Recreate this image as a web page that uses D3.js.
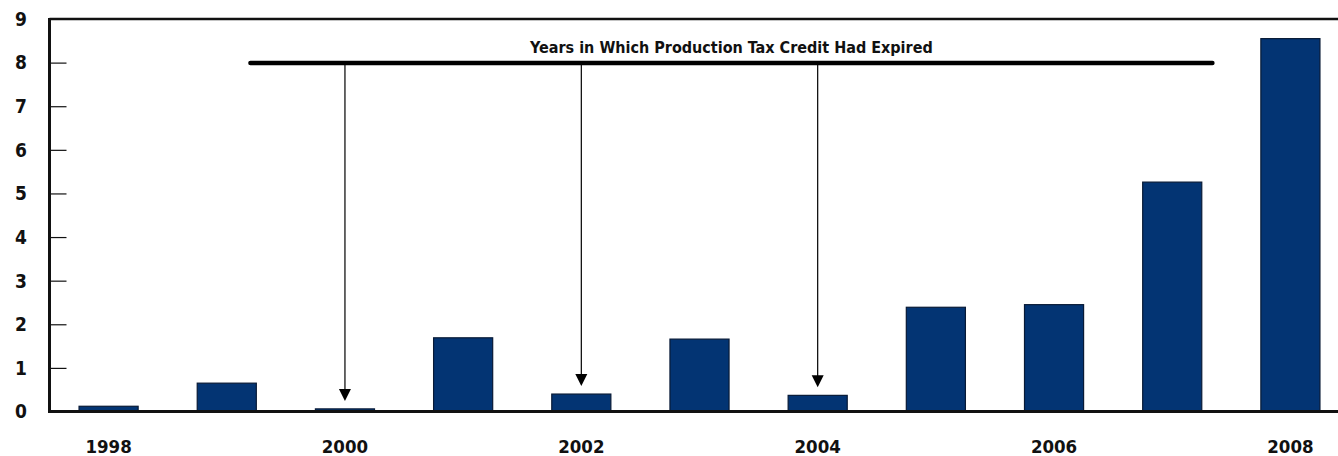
<!DOCTYPE html>
<html>
<head>
<meta charset="utf-8">
<script src="https://cdn.jsdelivr.net/npm/d3@7"></script>
<style>
  html, body { margin: 0; padding: 0; background: #fff; overflow: hidden; }
  text { font-family: "DejaVu Sans Condensed", "DejaVu Sans", sans-serif; font-stretch: condensed; font-weight: bold; fill: #111; }
</style>
</head>
<body>
<div id="chart"></div>
<script>
const years = [1998, 1999, 2000, 2001, 2002, 2003, 2004, 2005, 2006, 2007, 2008];
const values = [0.12, 0.65, 0.06, 1.69, 0.40, 1.66, 0.37, 2.39, 2.45, 5.26, 8.55];
const yTicks = [0, 1, 2, 3, 4, 5, 6, 7, 8, 9];
const xLabels = [1998, 2000, 2002, 2004, 2006, 2008];
const expiredYears = [2000, 2002, 2004];
const noteText = 'Years in Which Production Tax Credit Had Expired';

var svgwidth = 1338;
var svgheight = 456;

var svg = d3.select('#chart')
    .append('svg')
    .attr('width', svgwidth)
    .attr('height', svgheight);

var xscale = d3.scaleBand()
    .domain(years)
    .range([49.5, 1349.5])
    .paddingInner(0.5)
    .paddingOuter(0.25);

var yscale = d3.scaleLinear()
    .domain([0, 9])
    .range([411.5, 19]);

// continuous year position (band centres) for the annotation bracket
var yearPos = d3.scaleLinear()
    .domain([years[0], years[years.length - 1]])
    .range([xscale(years[0]) + xscale.bandwidth() / 2,
            xscale(years[years.length - 1]) + xscale.bandwidth() / 2]);

// bars
svg.append('g')
    .selectAll('rect')
    .data(years)
    .join('rect')
    .attr('x', d => xscale(d))
    .attr('y', (d, i) => yscale(values[i]))
    .attr('width', xscale.bandwidth())
    .attr('height', (d, i) => yscale(0) - yscale(values[i]))
    .attr('fill', '#033473')
    .attr('stroke', '#081a36')
    .attr('stroke-width', 1.2);

// y axis with inward ticks
var yaxis = d3.axisRight(yscale)
    .tickValues(yTicks.filter(t => t > 0 && t < 9))
    .tickSize(17)
    .tickFormat('');
var ya = svg.append('g')
    .attr('transform', 'translate(49.5,0)')
    .call(yaxis);
ya.select('.domain').remove();
ya.selectAll('line').attr('stroke', '#111').attr('stroke-width', 1.2);

svg.append('g')
    .selectAll('text')
    .data(yTicks)
    .join('text')
    .attr('x', 27)
    .attr('y', d => yscale(d))
    .attr('dy', '0.36em')
    .attr('text-anchor', 'end')
    .style('font-size', '19px')
    .text(d => d);

// frame lines
svg.append('line')
    .attr('x1', 49.5).attr('x2', svgwidth)
    .attr('y1', yscale(9)).attr('y2', yscale(9))
    .attr('stroke', '#111').attr('stroke-width', 2.5);
svg.append('line')
    .attr('x1', 49.5).attr('x2', svgwidth)
    .attr('y1', yscale(0)).attr('y2', yscale(0))
    .attr('stroke', '#111').attr('stroke-width', 3);
svg.append('line')
    .attr('x1', 49.5).attr('x2', 49.5)
    .attr('y1', yscale(9) - 1).attr('y2', yscale(0) + 1.5)
    .attr('stroke', '#111').attr('stroke-width', 3);

// x labels
svg.append('g')
    .selectAll('text')
    .data(xLabels)
    .join('text')
    .attr('x', d => xscale(d) + xscale.bandwidth() / 2)
    .attr('y', 453)
    .attr('text-anchor', 'middle')
    .style('font-size', '18.5px')
    .text(d => d);

// annotation
var noteY = 63;
svg.append('line')
    .attr('x1', yearPos(1999.2)).attr('x2', yearPos(2007.34))
    .attr('y1', noteY).attr('y2', noteY)
    .attr('stroke', '#000').attr('stroke-width', 4.5)
    .attr('stroke-linecap', 'round');

svg.append('text')
    .attr('x', (yearPos(1999.2) + yearPos(2007.34)) / 2)
    .attr('y', 53)
    .attr('text-anchor', 'middle')
    .style('font-size', '16px')
    .text(noteText);

var arrows = svg.append('g')
    .selectAll('g')
    .data(expiredYears)
    .join('g');

arrows.append('line')
    .attr('x1', d => xscale(d) + xscale.bandwidth() / 2)
    .attr('x2', d => xscale(d) + xscale.bandwidth() / 2)
    .attr('y1', noteY)
    .attr('y2', d => yscale(values[years.indexOf(d)]) - 18)
    .attr('stroke', '#000').attr('stroke-width', 1.2);

arrows.append('path')
    .attr('d', d => {
        var cx = xscale(d) + xscale.bandwidth() / 2;
        var tip = yscale(values[years.indexOf(d)]) - 8;
        return 'M' + (cx - 6) + ',' + (tip - 12) + 'L' + (cx + 6) + ',' + (tip - 12) + 'L' + cx + ',' + tip + 'Z';
    })
    .attr('fill', '#000');
</script>
</body>
</html>
